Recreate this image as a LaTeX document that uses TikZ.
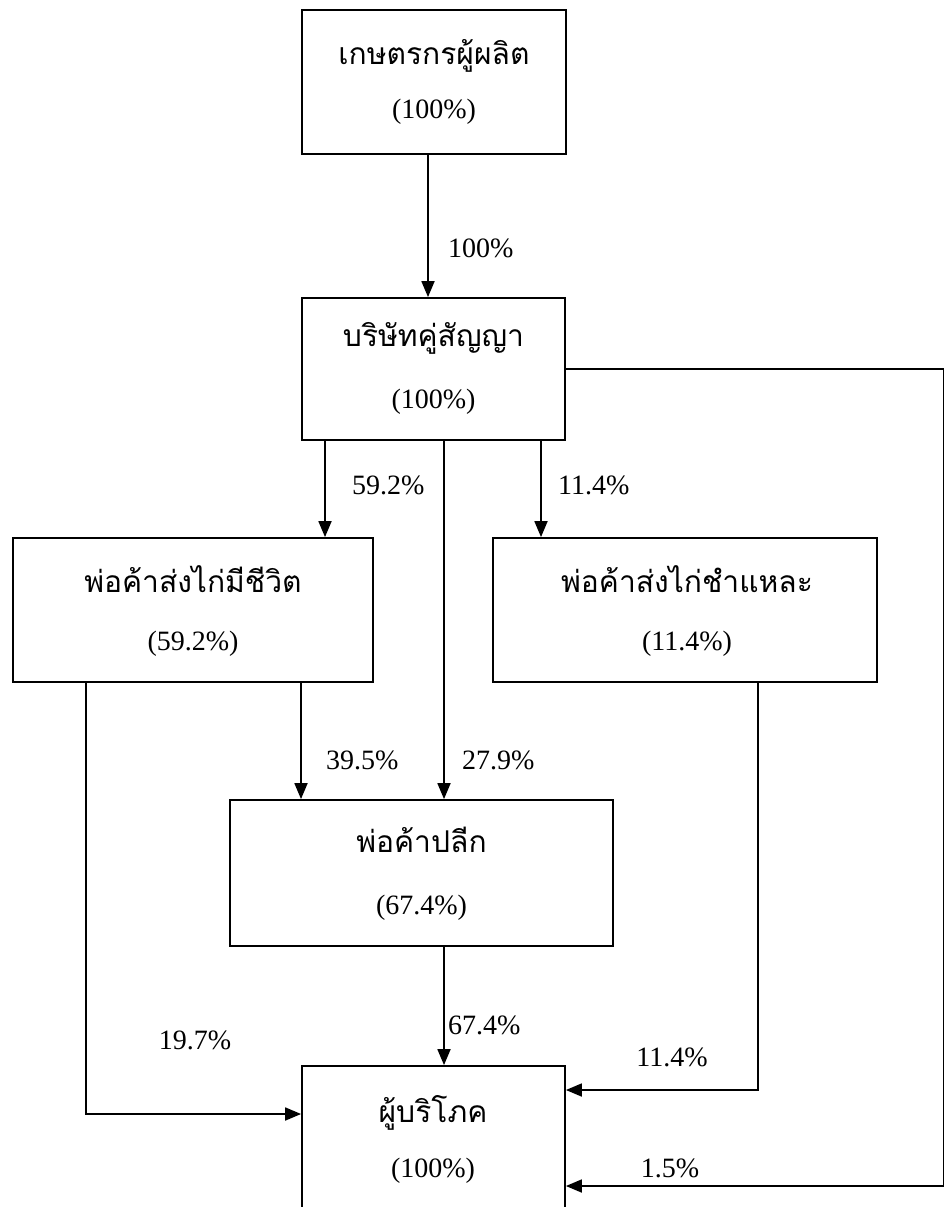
\documentclass[tikz,border=0pt]{standalone}
\usepackage{fontspec}
\setmainfont{Liberation Serif}
\newfontfamily\thaifont[Script=Thai]{Loma}
\usetikzlibrary{arrows.meta}

\begin{document}
\begin{tikzpicture}[x=1pt,y=-1pt,->,>={Triangle[length=16pt,width=13pt]},line width=1.8pt,
  box node/.style={draw,rectangle,inner sep=0pt},
  box text/.style={align=center,inner sep=0pt,font=\fontsize{28}{58}\selectfont},
  pct/.style={font=\fontsize{28}{32}\selectfont}]
\useasboundingbox (0,0) rectangle (944,1207);
\clip (0,0) rectangle (944,1207);
                \node[box node,minimum width=264,minimum height=144] (farmer) at (434,82) {};
                \node[box node,minimum width=263,minimum height=142] (company) at (433.5,369) {};
                \node[box node,minimum width=360,minimum height=144] (livetrader) at (193,610) {};
                \node[box node,minimum width=384,minimum height=144] (meattrader) at (685,610) {};
                \node[box node,minimum width=383,minimum height=146] (retailer) at (421.5,873) {};
                \node[box node,minimum width=263,minimum height=190] (consumer) at (433.5,1161) {};

                \node[box text,font=\fontsize{28}{54}\selectfont] (farmer text) at (434,81.5) {{\thaifont\fontsize{30}{30}\selectfont เกษตรกรผู้ผลิต}\\(100\%)};
                \node[box text,font=\fontsize{28}{62}\selectfont] (company text) at (433.5,368) {{\thaifont\fontsize{30}{30}\selectfont บริษัทคู่สัญญา}\\(100\%)};
                \node[box text] (livetrader text) at (193,611) {{\thaifont\fontsize{30}{30}\selectfont พ่อค้าส่งไก่มีชีวิต}\\(59.2\%)};
                \node[box text] (meattrader text) at (687,611) {{\thaifont\fontsize{30}{30}\selectfont พ่อค้าส่งไก่ชำแหละ}\\(11.4\%)};
                \node[box text,font=\fontsize{28}{62}\selectfont] (retailer text) at (421.5,873.5) {{\thaifont\fontsize{30}{30}\selectfont พ่อค้าปลีก}\\(67.4\%)};
                \node[box text,font=\fontsize{28}{55}\selectfont] (consumer text) at (433,1139) {{\thaifont\fontsize{30}{30}\selectfont ผู้บริโภค}\\(100\%)};

                \coordinate (looptop) at (944,369);
                \coordinate (loopbottom) at (944,1186);
                \coordinate (livedrop) at (86,1114);
                \coordinate (meatdrop) at (758,1090);

                \draw (farmer.south -| 428,0) -- (company.north -| 428,0)
                    node[pct,anchor=west] at (444,248) {100\%};
                \draw (company.south -| 325,0) -- (livetrader.north -| 325,0)
                    node[pct,anchor=west] at (348,485) {59.2\%};
                \draw (company.south -| 444,0) -- (retailer.north -| 444,0)
                    node[pct,anchor=west] at (458,760) {27.9\%};
                \draw (company.south -| 541,0) -- (meattrader.north -| 541,0)
                    node[pct,anchor=west] at (554,485) {11.4\%};
                \draw (livetrader.south -| 301,0) -- (retailer.north -| 301,0)
                    node[pct,anchor=west] at (322,760) {39.5\%};
                \draw (retailer.south -| 444,0) -- (consumer.north -| 444,0)
                    node[pct,anchor=west] at (444,1025) {67.4\%};
                \draw (livetrader.south -| livedrop) -- (livedrop) -- (consumer.west |- livedrop)
                    node[pct] at (195,1040) {19.7\%};
                \draw (meattrader.south -| meatdrop) -- (meatdrop) -- (consumer.east |- meatdrop)
                    node[pct] at (672,1057) {11.4\%};
                \draw (company.east |- looptop) -- (looptop) -- (loopbottom) -- (consumer.east |- loopbottom)
                    node[pct] at (670,1168) {1.5\%};

            \end{tikzpicture}
\end{document}
